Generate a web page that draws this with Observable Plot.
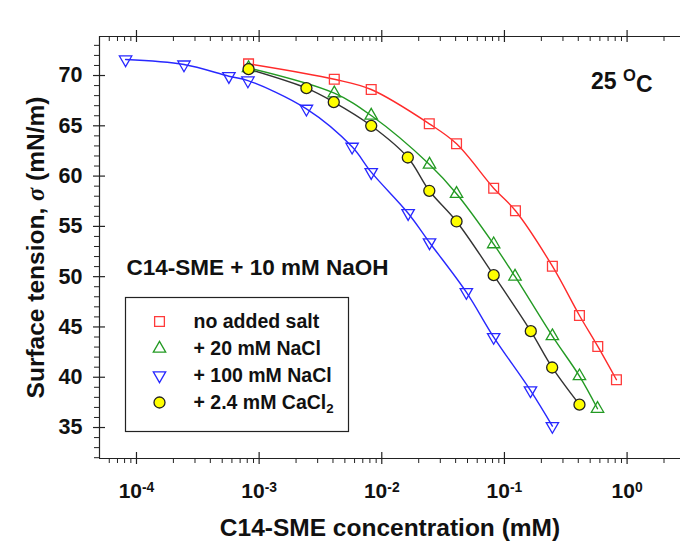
<!DOCTYPE html>
<html><head><meta charset="utf-8">
<script src="https://cdn.jsdelivr.net/npm/d3@7"></script>
<script src="https://cdn.jsdelivr.net/npm/@observablehq/plot@0.6"></script>
<style>
body{margin:0;background:#fff}
#chart svg{display:block}
</style>
</head><body><div id="chart"></div>
<script>
// ---- data ----
const seriesNames = ["no added salt", "+ 20 mM NaCl", "+ 100 mM NaCl", "+ 2.4 mM CaCl2"];

const concNoSalt = [0.00082, 0.0041, 0.0082, 0.0244, 0.0407, 0.0817, 0.123, 0.246, 0.409, 0.577, 0.819];
const tensionNoSalt = [71.16, 69.63, 68.61, 65.2, 63.21, 58.8, 56.55, 51.04, 46.14, 43.06, 39.75];

const conc20NaCl = [0.00082, 0.0041, 0.0082, 0.0245, 0.0407, 0.0817, 0.122, 0.246, 0.409, 0.574];
const tension20NaCl = [70.75, 68.24, 66.02, 61.15, 58.24, 53.23, 50.02, 44.09, 40.11, 36.87];

const conc100NaCl = [0.0000815, 0.000244, 0.000567, 0.00081, 0.00243, 0.00573, 0.0082, 0.0164, 0.0245, 0.0489, 0.0817, 0.163, 0.246];
const tension100NaCl = [71.59, 71.09, 69.93, 69.5, 66.69, 62.91, 60.39, 56.31, 53.4, 48.46, 43.99, 38.69, 35.14];

const concCaCl2 = [0.00082, 0.00243, 0.00406, 0.0082, 0.0163, 0.0244, 0.0407, 0.0817, 0.164, 0.245, 0.409];
const tensionCaCl2 = [70.63, 68.74, 67.35, 65.0, 61.85, 58.54, 55.49, 50.15, 44.58, 40.97, 37.27];

const xMajorTicks = [1e-4, 1e-3, 1e-2, 1e-1, 1];
const yMajorTicks = [35, 40, 45, 50, 55, 60, 65, 70];

const xTitle = "C14-SME concentration (mM)";
const yTitle = "Surface tension, σ (mN/m)";
const tempLabel = "25 °C";
const systemLabel = "C14-SME + 10 mM NaOH";

// ---- build ----
const seriesData = [
  {name: seriesNames[0], conc: concNoSalt, tension: tensionNoSalt},
  {name: seriesNames[1], conc: conc20NaCl, tension: tension20NaCl},
  {name: seriesNames[2], conc: conc100NaCl, tension: tension100NaCl},
  {name: seriesNames[3], conc: concCaCl2, tension: tensionCaCl2}
].map(s => ({name: s.name, rows: s.conc.map((c, i) => ({conc: c, tension: s.tension[i]}))}));

const triangleDown = {
  draw(context, size) {
    const y = -Math.sqrt(size / (Math.sqrt(3) * 3));
    context.moveTo(0, -y * 2);
    context.lineTo(-Math.sqrt(3) * y, y);
    context.lineTo(Math.sqrt(3) * y, y);
    context.closePath();
  }
};
const styles = [
  {line: "#ff2a2a", stroke: "#ff3a3a", fill: "none", symbol: "square", r: 5.5},
  {line: "#239a23", stroke: "#239a23", fill: "none", symbol: "triangle", r: 4.6},
  {line: "#2828ff", stroke: "#2828ff", fill: "none", symbol: triangleDown, r: 4.6},
  {line: "#333333", stroke: "#222222", fill: "#ffff00", symbol: "circle", r: 5.5}
];

const xDomain = [Math.pow(10, -4.3015), Math.pow(10, 0.4355)];
const yDomain = [31.92, 73.88];

const xMinorTicks = [];
for (let e = -5; e <= 0; e++) for (let k = 2; k <= 9; k++) {
  const v = k * Math.pow(10, e);
  if (v > 5.5e-5 && v < xDomain[1]) xMinorTicks.push(v);
}
const yMinorTicks = d3.range(32, 74).filter(v => v % 5 !== 0);

const ink = "#222";
const marks = [
  // frame lines
  Plot.ruleY([yDomain[0], yDomain[1]], {stroke: ink, strokeWidth: 1.2}),
  Plot.ruleX([xDomain[0]], {stroke: ink, strokeWidth: 1.2}),
  // bottom ticks
  Plot.ruleX(xMajorTicks, {x: d => d, y1: yDomain[0], y2: yDomain[0], insetTop: -6, insetBottom: -6, stroke: ink, strokeWidth: 1.2}),
  Plot.ruleX(xMinorTicks, {x: d => d, y1: yDomain[0], y2: yDomain[0], insetTop: 0, insetBottom: -5, stroke: ink}),
  // top ticks
  Plot.ruleX(xMajorTicks, {x: d => d, y1: yDomain[1], y2: yDomain[1], insetTop: -6, insetBottom: -6, stroke: ink, strokeWidth: 1.2}),
  Plot.ruleX(xMinorTicks, {x: d => d, y1: yDomain[1], y2: yDomain[1], insetTop: 0, insetBottom: -5, stroke: ink}),
  // left ticks
  Plot.ruleY(yMajorTicks, {y: d => d, x1: xDomain[0], x2: xDomain[0], insetLeft: -6, insetRight: -6, stroke: ink, strokeWidth: 1.2}),
  Plot.ruleY(yMinorTicks, {y: d => d, x1: xDomain[0], x2: xDomain[0], insetLeft: -5, insetRight: 0, stroke: ink}),
  // tick labels
  Plot.axisY({ticks: yMajorTicks, tickSize: 0, tickPadding: 17, fontSize: 21.5, label: null, tickFormat: d => String(d)}),
  Plot.axisX({ticks: xMajorTicks, tickSize: 0, tickPadding: 25, fontSize: 21, label: null, tickFormat: d => "10^" + Math.round(Math.log10(d))}),
  // axis titles
  Plot.text([yTitle], {frameAnchor: "left", dx: -63, rotate: -90, textAnchor: "middle", lineAnchor: "middle", text: d => d, fontSize: 24.5}),
  Plot.text([xTitle], {frameAnchor: "bottom", dy: 70, textAnchor: "middle", lineAnchor: "middle", text: d => d, fontSize: 24.5}),
  // annotations
  Plot.text([tempLabel], {frameAnchor: "top-right", dx: -28, dy: 45, textAnchor: "end", lineAnchor: "middle", text: d => d, fontSize: 23}),
  Plot.text([systemLabel], {frameAnchor: "top-left", dx: 27, dy: 231, textAnchor: "start", lineAnchor: "middle", text: d => d, fontSize: 22.5}),
  // legend box
  Plot.frame({insetLeft: 26, insetTop: 261, insetRight: 332, insetBottom: 27, stroke: ink, strokeWidth: 1.2})
];

// lines then markers
seriesData.forEach((s, i) => {
  marks.push(Plot.line(s.rows, {x: "conc", y: "tension", stroke: styles[i].line, strokeWidth: 1.4, curve: "catmull-rom"}));
});
[2, 0, 1, 3].forEach(i => {
  const st = styles[i];
  marks.push(Plot.dot(seriesData[i].rows, {x: "conc", y: "tension", symbol: st.symbol, r: st.r, stroke: st.stroke, fill: st.fill, strokeWidth: 1.3}));
});
// legend entries
seriesData.forEach((s, i) => {
  const st = styles[i];
  marks.push(Plot.dot([s.name], {frameAnchor: "top-left", dx: 60, dy: 285 + i * 27, symbol: st.symbol, r: st.r, stroke: st.stroke, fill: st.fill, strokeWidth: 1.3}));
  marks.push(Plot.text([s.name], {frameAnchor: "top-left", dx: 94, dy: 285 + i * 27, textAnchor: "start", lineAnchor: "middle", text: d => d, fontSize: 19.5}));
});

const chart = Plot.plot({
  width: 680,
  height: 546,
  marginLeft: 99,
  marginRight: 0,
  marginTop: 36,
  marginBottom: 88,
  x: {type: "log", domain: xDomain},
  y: {domain: yDomain},
  style: {fontFamily: "'Liberation Sans', Arial, sans-serif", fontWeight: "bold", color: "#111", background: "#fff"},
  marks
});
document.getElementById("chart").appendChild(chart);

// rich text: superscripts, subscripts, italic sigma
const NS = "http://www.w3.org/2000/svg";
function rebuild(el, parts) {
  el.textContent = "";
  for (const p of parts) {
    const t = document.createElementNS(NS, "tspan");
    t.textContent = p.t;
    if (p.dy) t.setAttribute("dy", p.dy);
    if (p.size) t.setAttribute("font-size", p.size);
    if (p.style) t.setAttribute("font-style", p.style);
    if (p.family) t.setAttribute("font-family", p.family);
    el.appendChild(t);
  }
}
chart.querySelectorAll("text").forEach(el => {
  const s = el.textContent;
  let m;
  if ((m = /^10\^(-?\d+)$/.exec(s))) {
    rebuild(el, [{t: "10"}, {t: m[1], dy: "-0.45em", size: "0.66em"}]);
  } else if (s === tempLabel) {
    rebuild(el, [{t: "25 "}, {t: "O", dy: "-0.45em", size: "0.72em"}, {t: "C", dy: "0.45em"}]);
  } else if (s === "+ 2.4 mM CaCl2") {
    rebuild(el, [{t: "+ 2.4 mM CaCl"}, {t: "2", dy: "0.35em", size: "0.68em"}]);
  } else if (s === yTitle) {
    rebuild(el, [{t: "Surface tension, "}, {t: "σ", style: "italic", family: "'Liberation Serif', serif"}, {t: " (mN/m)"}]);
  }
});
</script>
</body></html>
